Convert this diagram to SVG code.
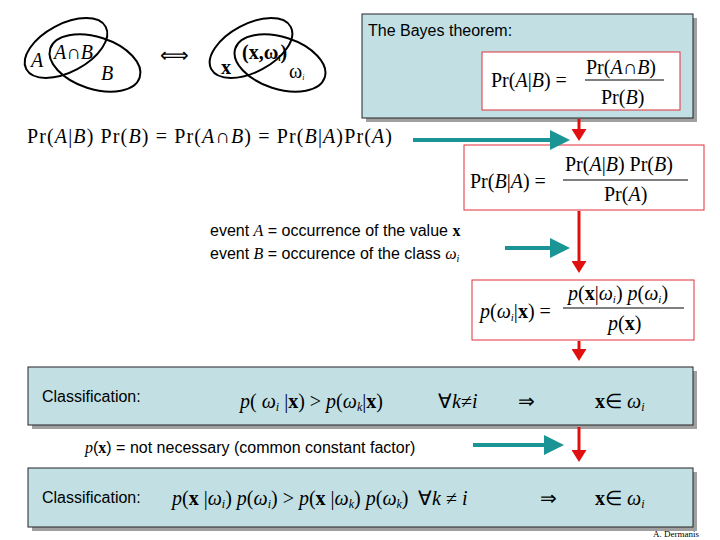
<svg xmlns="http://www.w3.org/2000/svg" width="720" height="540" viewBox="0 0 720 540">
<style>
.box{fill:#c2e0e4;stroke:#222;stroke-width:1}
.sh{fill:#a0a0a0}
.fb{fill:#fff;stroke:#e0303a;stroke-width:1}
.m{font-family:"Liberation Serif",serif;font-size:20px;fill:#000}
.s{font-family:"Liberation Sans",sans-serif;font-size:16px;fill:#000}
.e{fill:none;stroke:#000;stroke-width:2}
.teal{stroke:#1a9494;stroke-width:4;fill:none}
.red{stroke:#e01010;stroke-width:3;fill:none}
</style>
<defs>
<marker id="ta" markerWidth="6" markerHeight="6" refX="4" refY="3" orient="auto" markerUnits="strokeWidth"><path d="M0,0.5 L5,3 L0,5.5 z" fill="#1a9494"/></marker>
<marker id="ra" markerWidth="5" markerHeight="5" refX="3" refY="2.5" orient="auto" markerUnits="strokeWidth"><path d="M0,0 L4,2.5 L0,5 z" fill="#e01010"/></marker>
</defs>
<g id="venn">
<ellipse class="e" cx="66" cy="48" rx="45" ry="24" transform="rotate(-28 66 48)"/>
<ellipse class="e" cx="95" cy="63" rx="47" ry="26" transform="rotate(18 95 63)"/>
<text class="m" x="31" y="67" font-size="14" font-style="italic">A</text>
<text class="m" x="54" y="59" font-size="14" font-style="italic">A∩B</text>
<text class="m" x="101" y="80" font-size="14" font-style="italic">B</text>
<text class="m" x="160" y="62" font-size="16">⟺</text>
<ellipse class="e" cx="251" cy="48" rx="45" ry="24" transform="rotate(-28 251 48)"/>
<ellipse class="e" cx="280" cy="63" rx="47" ry="26" transform="rotate(18 280 63)"/>
<text class="m" x="221" y="74" font-size="14" font-weight="bold">x</text>
<text class="m" x="242" y="59" font-size="14" font-weight="bold">(x,ω<tspan font-size="8" dy="2">i</tspan><tspan dy="-2">)</tspan></text>
<text class="m" x="289" y="78" font-size="14">ω<tspan font-size="8" dy="2" font-style="italic">i</tspan></text>
</g>
<g id="bayes">
<rect class="sh" x="366" y="18" width="331" height="104"/>
<rect class="box" x="362" y="14" width="331" height="104"/>
<text class="s" x="368" y="36">The Bayes theorem:</text>
<rect class="fb" x="482" y="52" width="198" height="58"/>
<text class="m" x="491" y="87" font-size="21">Pr(<tspan font-style="italic">A</tspan>|<tspan font-style="italic">B</tspan>) =</text>
<line x1="585" y1="80" x2="664" y2="80" stroke="#000"/>
<text class="m" x="586" y="74" font-size="21">Pr(<tspan font-style="italic">A</tspan>∩<tspan font-style="italic">B</tspan>)</text>
<text class="m" x="601" y="104" font-size="21">Pr(<tspan font-style="italic">B</tspan>)</text>
</g>
<text class="m" x="27" y="143" font-size="21" textLength="365">Pr(<tspan font-style="italic">A</tspan>|<tspan font-style="italic">B</tspan>) Pr(<tspan font-style="italic">B</tspan>) = Pr(<tspan font-style="italic">A</tspan>∩<tspan font-style="italic">B</tspan>) = Pr(<tspan font-style="italic">B</tspan>|<tspan font-style="italic">A</tspan>)Pr(<tspan font-style="italic">A</tspan>)</text>
<g id="f2">
<rect class="fb" x="464" y="145" width="240" height="65"/>
<text class="m" x="470" y="188" font-size="21">Pr(<tspan font-style="italic">B</tspan>|<tspan font-style="italic">A</tspan>) =</text>
<line x1="563" y1="180" x2="688" y2="180" stroke="#000"/>
<text class="m" x="565" y="171" font-size="21">Pr(<tspan font-style="italic">A</tspan>|<tspan font-style="italic">B</tspan>) Pr(<tspan font-style="italic">B</tspan>)</text>
<text class="m" x="604" y="201" font-size="21">Pr(<tspan font-style="italic">A</tspan>)</text>
</g>
<text class="s" x="210" y="236">event <tspan font-family="Liberation Serif" font-style="italic">A</tspan> = occurrence of the value <tspan font-family="Liberation Serif" font-weight="bold">x</tspan></text>
<text class="s" x="210" y="259">event <tspan font-family="Liberation Serif" font-style="italic">B</tspan> = occurence of the class <tspan font-family="Liberation Serif" font-style="italic">ω<tspan font-size="10" dy="3">i</tspan></tspan></text>
<g id="f3">
<rect class="fb" x="472" y="280" width="222" height="60"/>
<text class="m" x="480" y="318" font-size="21" font-style="italic">p<tspan font-style="normal">(</tspan>ω<tspan font-size="11" dy="3">i</tspan><tspan dy="-3" font-style="normal">|</tspan><tspan font-weight="bold" font-style="normal">x</tspan><tspan font-style="normal">) =</tspan></text>
<line x1="563" y1="308" x2="684" y2="308" stroke="#000"/>
<text class="m" x="568" y="300" font-size="21" font-style="italic">p<tspan font-style="normal">(</tspan><tspan font-weight="bold" font-style="normal">x</tspan><tspan font-style="normal">|</tspan>ω<tspan font-size="11" dy="3">i</tspan><tspan dy="-3" font-style="normal">)</tspan> p<tspan font-style="normal">(</tspan>ω<tspan font-size="11" dy="3">i</tspan><tspan dy="-3" font-style="normal">)</tspan></text>
<text class="m" x="608" y="330" font-size="21" font-style="italic">p<tspan font-style="normal">(</tspan><tspan font-weight="bold" font-style="normal">x</tspan><tspan font-style="normal">)</tspan></text>
</g>
<g id="class1">
<rect class="sh" x="32" y="371" width="665" height="58"/>
<rect class="box" x="28" y="367" width="665" height="58"/>
<text class="s" x="42" y="402">Classification:</text>
<text class="m" x="240" y="408" font-size="22" font-style="italic">p<tspan font-style="normal">(</tspan> ω<tspan font-size="12" dy="3">i</tspan><tspan dy="-3" font-style="normal"> |</tspan><tspan font-weight="bold" font-style="normal">x</tspan><tspan font-style="normal">) &gt; </tspan>p<tspan font-style="normal">(</tspan>ω<tspan font-size="12" dy="3">k</tspan><tspan dy="-3" font-style="normal">|</tspan><tspan font-weight="bold" font-style="normal">x</tspan><tspan font-style="normal">)</tspan></text>
<text class="m" x="438" y="408" font-size="22" font-style="italic"><tspan font-style="normal">∀</tspan>k<tspan font-style="normal">≠</tspan>i</text>
<text class="m" x="518" y="408">⇒</text>
<text class="m" x="595" y="408" font-size="22"><tspan font-weight="bold">x</tspan>∈ <tspan font-style="italic">ω<tspan font-size="12" dy="3">i</tspan></tspan></text>
</g>
<text class="s" x="85" y="453"><tspan font-family="Liberation Serif" font-style="italic">p</tspan>(<tspan font-family="Liberation Serif" font-weight="bold">x</tspan>) = not necessary (common constant factor)</text>
<g id="class2">
<rect class="sh" x="32" y="472" width="665" height="59"/>
<rect class="box" x="28" y="468" width="665" height="59"/>
<text class="s" x="42" y="503">Classification:</text>
<text class="m" x="172" y="505" font-size="22" font-style="italic">p<tspan font-style="normal">(</tspan><tspan font-weight="bold" font-style="normal">x</tspan><tspan font-style="normal"> |</tspan>ω<tspan font-size="12" dy="3">i</tspan><tspan dy="-3" font-style="normal">) </tspan>p<tspan font-style="normal">(</tspan>ω<tspan font-size="12" dy="3">i</tspan><tspan dy="-3" font-style="normal">) &gt; </tspan>p<tspan font-style="normal">(</tspan><tspan font-weight="bold" font-style="normal">x</tspan><tspan font-style="normal"> |</tspan>ω<tspan font-size="12" dy="3">k</tspan><tspan dy="-3" font-style="normal">) </tspan>p<tspan font-style="normal">(</tspan>ω<tspan font-size="12" dy="3">k</tspan><tspan dy="-3" font-style="normal">)</tspan></text>
<text class="m" x="418" y="505" font-size="22" font-style="italic"><tspan font-style="normal">∀</tspan>k <tspan font-style="normal">≠</tspan> i</text>
<text class="m" x="540" y="505">⇒</text>
<text class="m" x="595" y="505" font-size="22"><tspan font-weight="bold">x</tspan>∈ <tspan font-style="italic">ω<tspan font-size="12" dy="3">i</tspan></tspan></text>
</g>
<text x="676" y="537" font-family="Liberation Serif" font-size="9" text-anchor="middle">A. Dermanis</text>
<g id="connectors">
<line class="teal" x1="413" y1="140" x2="566" y2="140" marker-end="url(#ta)"/>
<line class="teal" x1="505" y1="248" x2="566" y2="248" marker-end="url(#ta)"/>
<line class="teal" x1="473" y1="445" x2="560" y2="445" marker-end="url(#ta)"/>
<line class="red" x1="579" y1="119" x2="579" y2="138" marker-end="url(#ra)"/>
<line class="red" x1="579" y1="211" x2="579" y2="270" marker-end="url(#ra)"/>
<line class="red" x1="579" y1="341" x2="579" y2="358" marker-end="url(#ra)"/>
<line class="red" x1="579" y1="427" x2="579" y2="459" marker-end="url(#ra)"/>
</g>
</svg>
